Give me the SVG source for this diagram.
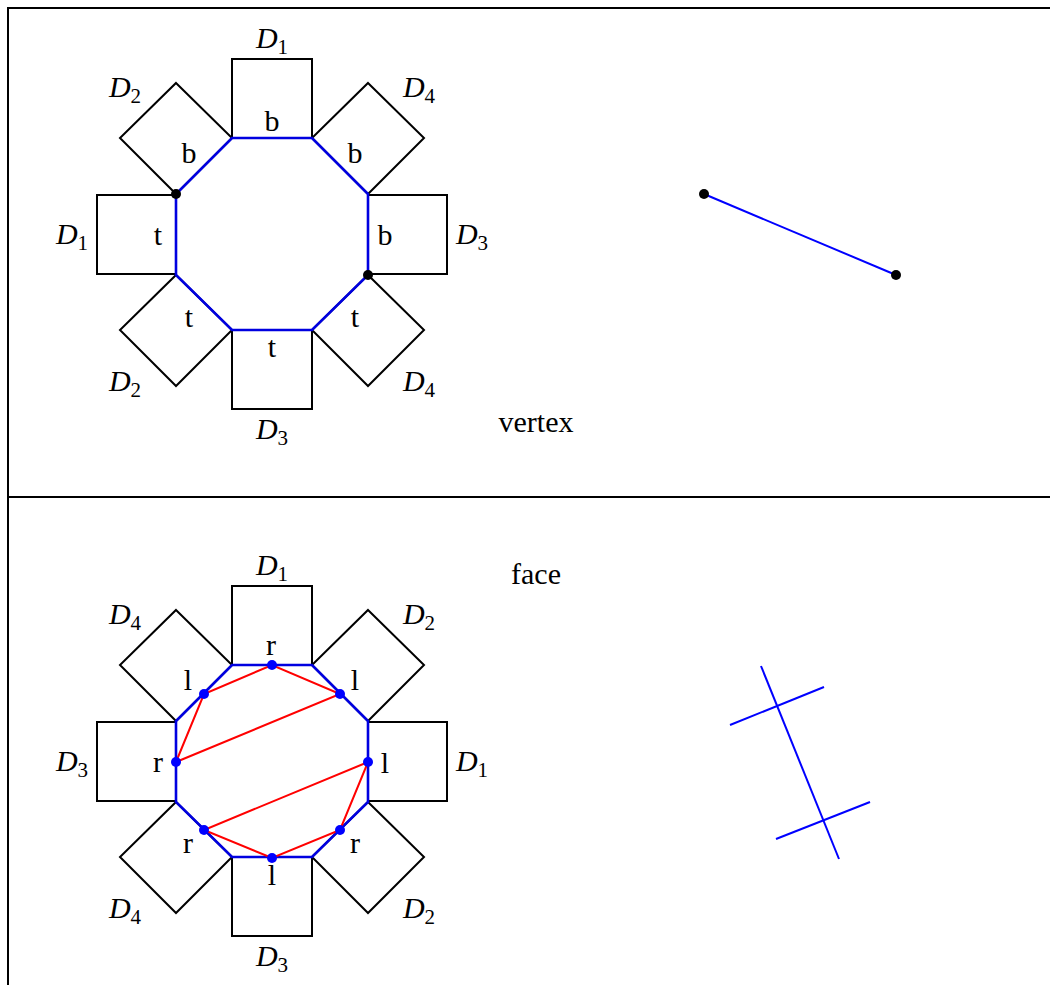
<svg xmlns="http://www.w3.org/2000/svg" width="1050" height="985" viewBox="0 0 1050 985">
<style>
.sq{fill:none;stroke:#000;stroke-width:2;stroke-linejoin:miter}
.oct{fill:none;stroke:#0000e0;stroke-width:2.6;stroke-linejoin:miter}
.bl{fill:none;stroke:#0000ff;stroke-width:2}
.rd{fill:none;stroke:#ff0000;stroke-width:2}
.frame{fill:none;stroke:#000;stroke-width:2}
.lab{font-family:"Liberation Serif",serif;font-style:italic;font-size:30px;text-anchor:middle;fill:#000}
.sub{font-size:21px;font-style:normal}
.sm{font-family:"Liberation Serif",serif;font-size:30px;text-anchor:middle;fill:#000}
.dk{fill:#000}
.db{fill:#0000ff}
</style>
<defs>
<g id="squares">
<rect class="sq" x="232" y="59" width="80" height="79"/>
<rect class="sq" x="97" y="195" width="79" height="79"/>
<rect class="sq" x="368" y="195" width="79" height="79"/>
<rect class="sq" x="232" y="330" width="80" height="79"/>
<polygon class="sq" points="176,83 232,138 176,194 120,138"/>
<polygon class="sq" points="368,83 424,138 368,194 312,138"/>
<polygon class="sq" points="176,275 232,330 176,386 120,330"/>
<polygon class="sq" points="368,275 424,330 368,386 312,330"/>
</g>
<polygon id="octagon" class="oct" points="232,138 312,138 368,194 368,275 312,330 232,330 176,275 176,194"/>
</defs>
<g id="frame">
<path class="frame" d="M8,985 V8 H1050 M8,497 H1050"/>
</g>
<g id="vertex-panel">
<g id="vertex-diagram">
<use href="#squares"/>
<use href="#octagon"/>
<circle class="dk" cx="176" cy="194" r="5"/>
<circle class="dk" cx="368" cy="275" r="5"/>
</g>
<g id="vertex-labels">
<text class="lab" x="272" y="48">D<tspan class="sub" dy="6">1</tspan></text>
<text class="lab" x="125" y="97">D<tspan class="sub" dy="6">2</tspan></text>
<text class="lab" x="419" y="97">D<tspan class="sub" dy="6">4</tspan></text>
<text class="lab" x="72" y="244">D<tspan class="sub" dy="6">1</tspan></text>
<text class="lab" x="472" y="244">D<tspan class="sub" dy="6">3</tspan></text>
<text class="lab" x="125" y="391">D<tspan class="sub" dy="6">2</tspan></text>
<text class="lab" x="419" y="391">D<tspan class="sub" dy="6">4</tspan></text>
<text class="lab" x="272" y="439">D<tspan class="sub" dy="6">3</tspan></text>
<text class="sm" x="272" y="131">b</text>
<text class="sm" x="189" y="163">b</text>
<text class="sm" x="355" y="163">b</text>
<text class="sm" x="158" y="245">t</text>
<text class="sm" x="385" y="245">b</text>
<text class="sm" x="189" y="327">t</text>
<text class="sm" x="355" y="327">t</text>
<text class="sm" x="272" y="357">t</text>
<text class="sm" x="536" y="432">vertex</text>
</g>
<g id="vertex-edge">
<line class="bl" x1="704" y1="194" x2="896" y2="275"/>
<circle class="dk" cx="704" cy="194" r="5"/>
<circle class="dk" cx="896" cy="275" r="5"/>
</g>
</g>
<g id="face-panel">
<g id="face-diagram" transform="translate(0,527)">
<use href="#squares"/>
<use href="#octagon"/>
<g id="connectors">
<polyline class="rd" points="176,235 204,167 272,138 340,167 176,235"/>
<polyline class="rd" points="368,235 204,303 272,331 340,303 368,235"/>
</g>
<circle class="db" cx="272" cy="138" r="5"/>
<circle class="db" cx="204" cy="167" r="5"/>
<circle class="db" cx="340" cy="167" r="5"/>
<circle class="db" cx="176" cy="235" r="5"/>
<circle class="db" cx="368" cy="235" r="5"/>
<circle class="db" cx="204" cy="303" r="5"/>
<circle class="db" cx="340" cy="303" r="5"/>
<circle class="db" cx="272" cy="331" r="5"/>
</g>
<g id="face-labels">
<text class="lab" x="272" y="575">D<tspan class="sub" dy="6">1</tspan></text>
<text class="lab" x="125" y="624">D<tspan class="sub" dy="6">4</tspan></text>
<text class="lab" x="419" y="624">D<tspan class="sub" dy="6">2</tspan></text>
<text class="lab" x="72" y="771">D<tspan class="sub" dy="6">3</tspan></text>
<text class="lab" x="472" y="771">D<tspan class="sub" dy="6">1</tspan></text>
<text class="lab" x="125" y="918">D<tspan class="sub" dy="6">4</tspan></text>
<text class="lab" x="419" y="918">D<tspan class="sub" dy="6">2</tspan></text>
<text class="lab" x="272" y="966">D<tspan class="sub" dy="6">3</tspan></text>
<text class="sm" x="271" y="655">r</text>
<text class="sm" x="188" y="690">l</text>
<text class="sm" x="355" y="690">l</text>
<text class="sm" x="158" y="772">r</text>
<text class="sm" x="385" y="773">l</text>
<text class="sm" x="188" y="853">r</text>
<text class="sm" x="355" y="853">r</text>
<text class="sm" x="272" y="885">l</text>
<text class="sm" x="536" y="584">face</text>
</g>
<g id="face-dual">
<line class="bl" x1="761" y1="666" x2="839" y2="859"/>
<line class="bl" x1="730" y1="725" x2="824" y2="687"/>
<line class="bl" x1="776" y1="839" x2="870" y2="802"/>
</g>
</g>
</svg>
